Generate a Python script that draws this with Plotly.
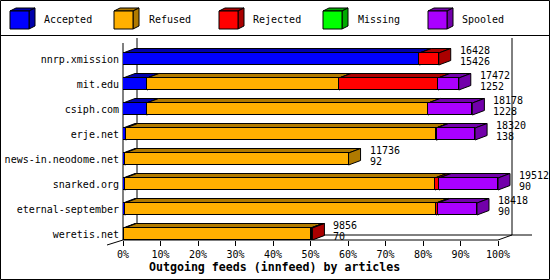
import plotly.graph_objects as go

# ---- data (articles) ----
hosts = ["nnrp.xmission", "mit.edu", "csiph.com", "erje.net",
         "news-in.neodome.net", "snarked.org", "eternal-september", "weretis.net"]
offered = [16428, 17472, 18178, 18320, 11736, 19512, 18418, 9856]
accepted = [15426, 1252, 1228, 138, 92, 90, 90, 70]
refused = [0, 9990, 14650, 16150, 11644, 16144, 16202, 9706]
rejected = [1002, 5150, 0, 30, 0, 215, 100, 80]
missing = [0, 0, 0, 0, 0, 0, 0, 0]
spooled = [0, 1080, 2300, 2002, 0, 3063, 2026, 0]

series_names = ["Accepted", "Refused", "Rejected", "Missing", "Spooled"]
series_vals = [accepted, refused, rejected, missing, spooled]
front_cols = ["#0000FF", "#FFB000", "#FF0000", "#00FF00", "#AA00FF"]
dark_cols = ["#0000AA", "#B07A00", "#AA0000", "#00AA00", "#7200AA"]
tick_vals = [0, 10, 20, 30, 40, 50, 60, 70, 80, 90, 100]
tick_text = [f"{v}%" for v in tick_vals]

# ---- geometry (pixels) ----
W, H = 550, 280
X0PX, PXPER = 123, 3.75          # 0% position, px per percent
YC0, YSTEP = 59, 25              # first bar centre, px per bar
BOT, TOP = 240, 36
DXP, DYP = 12, 4.5               # 3D depth for bars
DX = DXP / PXPER
DY = DYP / YSTEP
BW = 0.48

def fx(px):
    return px / W

def fy(py):
    return 1 - py / H

xmax = (W - X0PX) / PXPER
ybot = (BOT - YC0) / YSTEP
ytop = (TOP - YC0) / YSTEP

scale = 100.0 / max(offered)
pos = list(range(len(hosts)))

fig = go.Figure()
for name, vals, fc in zip(series_names, series_vals, front_cols):
    fig.add_trace(go.Bar(
        y=pos, x=[v * scale for v in vals], orientation="h", name=name,
        width=BW, marker=dict(color=fc, line=dict(color="black", width=1)),
        showlegend=False, hoverinfo="skip"))

shapes = []
LK = dict(color="black", width=1)
# frame / walls (paper coords)
def pline(x0, y0, x1, y1):
    shapes.append(dict(type="line", xref="paper", yref="paper",
                       x0=fx(x0), y0=fy(y0), x1=fx(x1), y1=fy(y1),
                       line=LK, layer="below"))

back_dx, back_dy = 14, 5
pline(X0PX + back_dx, 38, X0PX + back_dx, BOT - back_dy)           # back left wall
pline(X0PX + 100 * PXPER + back_dx, 38, X0PX + 100 * PXPER + back_dx, BOT - back_dy)  # back right wall
pline(X0PX + back_dx, BOT - back_dy, 532, BOT - back_dy)           # back floor line
pline(X0PX, 43, X0PX, BOT)                                           # front left
pline(X0PX, BOT, X0PX + 100 * PXPER, BOT)                           # front axis
pline(X0PX + 100 * PXPER, BOT, X0PX + 100 * PXPER + back_dx, BOT - back_dy)
pline(X0PX - 16, BOT + 5, X0PX, BOT)

# 3D faces of bars (data coords)
for i in pos:
    cum = 0.0
    yt = i - BW / 2
    yb = i + BW / 2
    for vals, dc in zip(series_vals, dark_cols):
        v = vals[i] * scale
        if v <= 0:
            continue
        x0, x1 = cum, cum + v
        cum = x1
        top = (f"M{x0},{yt} L{x1},{yt} L{x1 + DX},{yt - DY} "
               f"L{x0 + DX},{yt - DY} Z")
        side = (f"M{x1},{yt} L{x1 + DX},{yt - DY} L{x1 + DX},{yb - DY} "
                f"L{x1},{yb} Z")
        for p in (top, side):
            shapes.append(dict(type="path", xref="x", yref="y", path=p,
                               fillcolor=dc, line=LK, layer="below"))

# legend
leg_box = [10, 114, 219, 323, 428]
leg_txt = [42, 147, 251, 356, 460]
annotations = []
for bx, tx, name, fc, dc in zip(leg_box, leg_txt, series_names, front_cols, dark_cols):
    ldx, ldy = 6, 3
    x0, x1, y0, y1 = bx, bx + 19, 11, 29
    top = (f"M{fx(x0)},{fy(y0)} L{fx(x1)},{fy(y0)} L{fx(x1 + ldx)},{fy(y0 - ldy)} "
           f"L{fx(x0 + ldx)},{fy(y0 - ldy)} Z")
    side = (f"M{fx(x1)},{fy(y0)} L{fx(x1 + ldx)},{fy(y0 - ldy)} "
            f"L{fx(x1 + ldx)},{fy(y1 - ldy)} L{fx(x1)},{fy(y1)} Z")
    shapes.append(dict(type="path", xref="paper", yref="paper", path=top,
                       fillcolor=dc, line=LK, layer="above"))
    shapes.append(dict(type="path", xref="paper", yref="paper", path=side,
                       fillcolor=dc, line=LK, layer="above"))
    shapes.append(dict(type="rect", xref="paper", yref="paper",
                       x0=fx(x0), x1=fx(x1), y0=fy(y0), y1=fy(y1),
                       fillcolor=fc, line=LK, layer="above"))
    annotations.append(dict(xref="paper", yref="paper", x=fx(tx), y=fy(20),
                            xanchor="left", yanchor="middle", text=name,
                            showarrow=False,
                            font=dict(family="DejaVu Sans Mono", size=10, color="black")))

# border and separator
shapes.append(dict(type="rect", xref="paper", yref="paper",
                   x0=fx(0.5), x1=fx(549.5), y0=fy(0.5), y1=fy(279.5),
                   line=LK, layer="above"))
shapes.append(dict(type="line", xref="paper", yref="paper",
                   x0=fx(0), x1=fx(550), y0=fy(35.5), y1=fy(35.5),
                   line=LK, layer="above"))

# value labels
for i in pos:
    xe = offered[i] * scale + 19 / PXPER
    annotations.append(dict(xref="x", yref="y", x=xe, y=i - 0.36,
                            xanchor="left", yanchor="middle", text=str(offered[i]),
                            showarrow=False,
                            font=dict(family="DejaVu Sans Mono", size=10, color="black")))
    annotations.append(dict(xref="x", yref="y", x=xe, y=i + 0.08,
                            xanchor="left", yanchor="middle", text=str(accepted[i]),
                            showarrow=False,
                            font=dict(family="DejaVu Sans Mono", size=10, color="black")))

# axis title
annotations.append(dict(xref="paper", yref="paper", x=fx(274), y=fy(267),
                        xanchor="center", yanchor="middle",
                        text="<b>Outgoing feeds (innfeed) by articles</b>",
                        showarrow=False,
                        font=dict(family="DejaVu Sans Mono", size=11.6, color="black")))

fig.update_layout(
    width=W, height=H, margin=dict(l=0, r=0, t=0, b=0),
    barmode="stack", bargap=0,
    paper_bgcolor="white", plot_bgcolor="rgba(0,0,0,0)",
    shapes=shapes, annotations=annotations,
    font=dict(family="DejaVu Sans Mono", size=10, color="black"),
    xaxis=dict(domain=[fx(X0PX), 1], range=[0, xmax], tickvals=tick_vals,
               ticktext=tick_text, ticks="outside", ticklen=5, tickcolor="black",
               showgrid=False, zeroline=False, showline=False, automargin=False,
               fixedrange=True, tickfont=dict(size=10)),
    yaxis=dict(domain=[fy(BOT), fy(TOP)], range=[ybot, ytop], tickvals=pos,
               ticktext=hosts, ticks="", showgrid=False, zeroline=False,
               showline=False, automargin=False, ticklabelstandoff=3,
               fixedrange=True, tickfont=dict(size=10)),
)

fig.write_html("out.html")
